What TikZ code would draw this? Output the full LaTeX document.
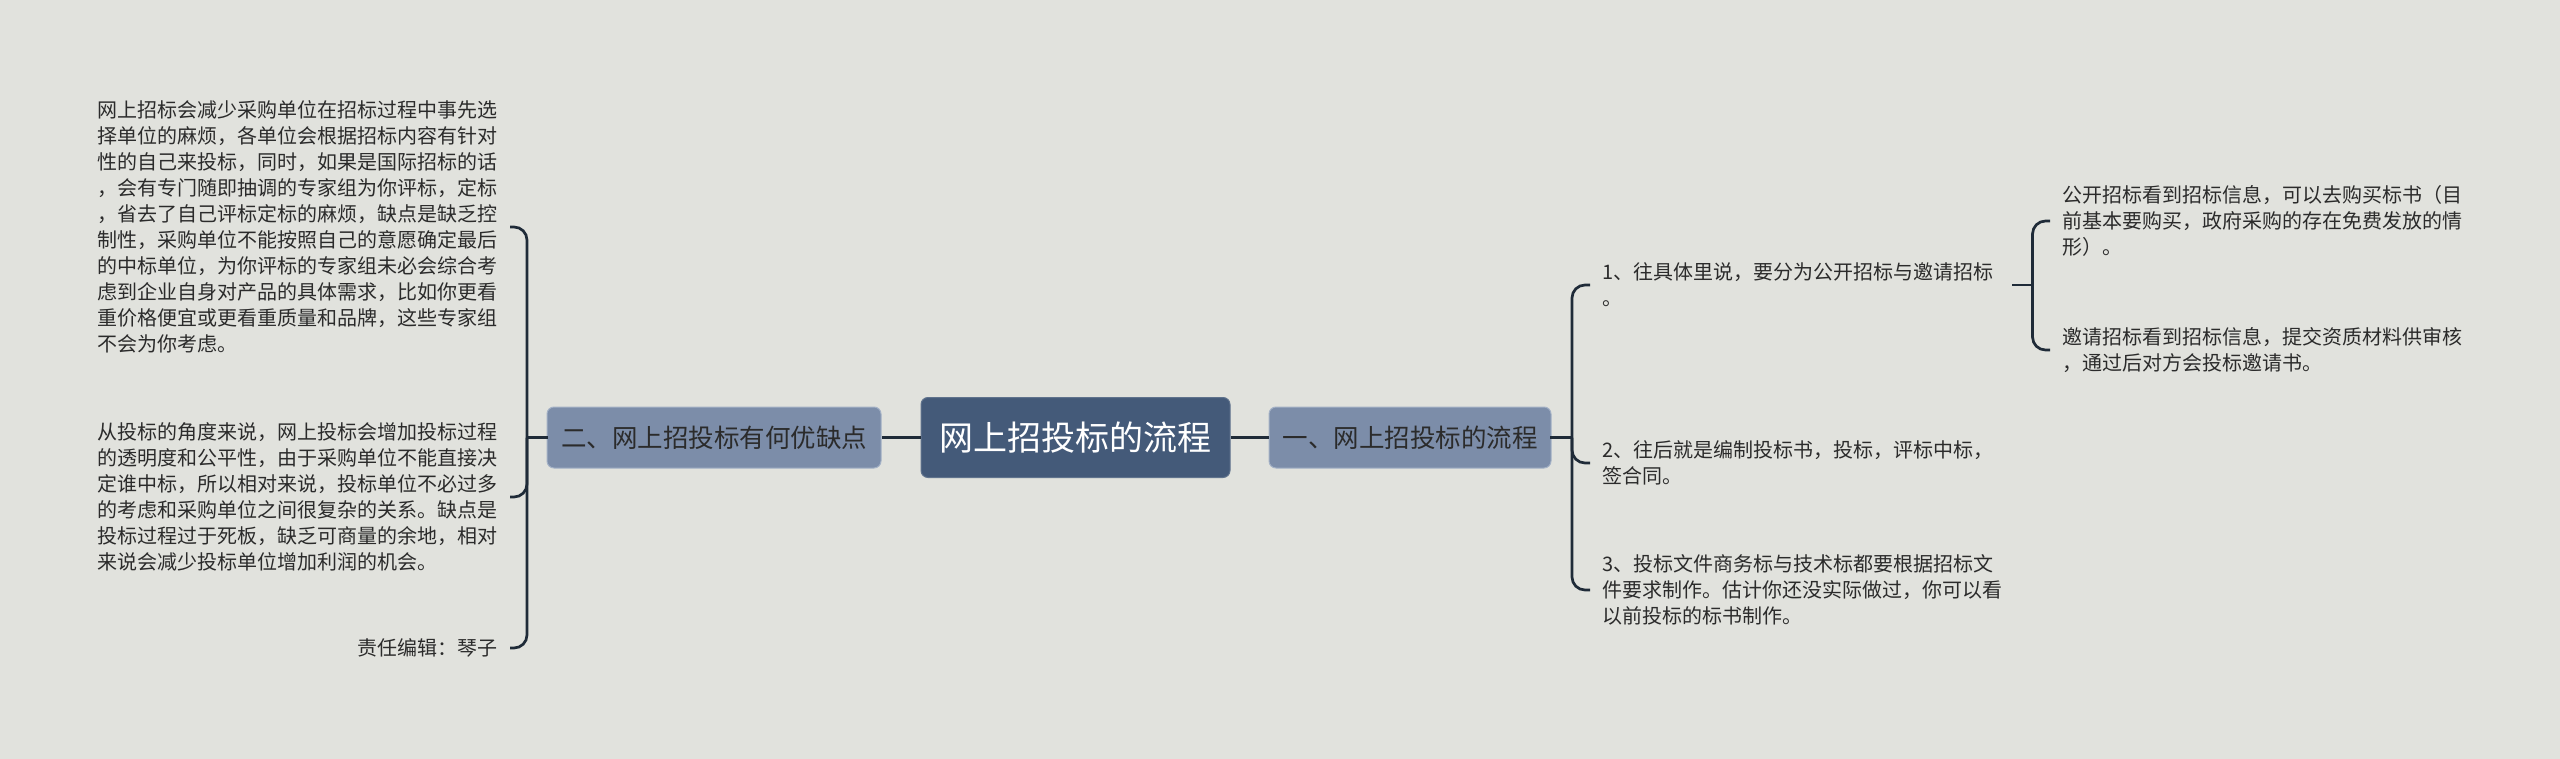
\documentclass[tikz,border=0pt]{standalone}
\usepackage{fontspec}
\setmainfont{Noto Sans CJK SC}
\definecolor{bg}{HTML}{E1E2DD}
\definecolor{linec}{HTML}{1F2B38}
\definecolor{mainc}{HTML}{445A79}
\definecolor{subc}{HTML}{7C8DA9}
\definecolor{subb}{HTML}{A3B1C6}
\definecolor{txt}{HTML}{2B2B2B}
\begin{document}
\begin{tikzpicture}[x=1pt,y=-1pt,
  conn/.style={draw=linec,line width=2.7pt,rounded corners=13pt},
  stub/.style={conn,line cap=rect},
  mainbox/.style={fill=mainc,draw=mainc!85!white,line width=1pt,rounded corners=7pt,text=white,font=\fontsize{34}{40}\selectfont,minimum width=309pt,minimum height=80pt,inner sep=0pt},
  subbox/.style={fill=subc,draw=subb,line width=1pt,rounded corners=7pt,text=txt,font=\fontsize{25.5}{30}\selectfont,minimum height=61pt,inner sep=0pt},
  leaf/.style={text=txt,font=\fontsize{20}{26}\selectfont,align=left,inner sep=0pt},
  leafr/.style={text=txt,font=\fontsize{20}{26}\selectfont,align=right,inner sep=0pt},
]
\fill[bg] (0,0) rectangle (2560,759);
\useasboundingbox (0,0) rectangle (2560,759);

% main nodes
\node[mainbox] (C) at (1075.5,437.5) {网上招投标的流程};
\node[subbox,minimum width=334pt] (L) at (714,437.5) {二、网上招投标有何优缺点};
\node[subbox,minimum width=282pt] (R) at (1410,437.5) {一、网上招投标的流程};

% left leaves
\node[leaf,anchor=east] (t1) at (498,227) {网上招标会减少采购单位在招标过程中事先选\\择单位的麻烦，各单位会根据招标内容有针对\\性的自己来投标，同时，如果是国际招标的话\\，会有专门随即抽调的专家组为你评标，定标\\，省去了自己评标定标的麻烦，缺点是缺乏控\\制性，采购单位不能按照自己的意愿确定最后\\的中标单位，为你评标的专家组未必会综合考\\虑到企业自身对产品的具体需求，比如你更看\\重价格便宜或更看重质量和品牌，这些专家组\\不会为你考虑。};
\node[leaf,anchor=east] (t2) at (498,497) {从投标的角度来说，网上投标会增加投标过程\\的透明度和公平性，由于采购单位不能直接决\\定谁中标，所以相对来说，投标单位不必过多\\的考虑和采购单位之间很复杂的关系。缺点是\\投标过程过于死板，缺乏可商量的余地，相对\\来说会减少投标单位增加利润的机会。};
\node[leafr,anchor=east] (t3) at (498,648) {责任编辑：琴子};

% right leaves
\node[leaf,anchor=west] (i1) at (1602,285) {1、往具体里说，要分为公开招标与邀请招标\\。};
\node[leaf,anchor=west] (i2) at (1602,463) {2、往后就是编制投标书，投标，评标中标，\\签合同。};
\node[leaf,anchor=west] (i3) at (1602,590) {3、投标文件商务标与技术标都要根据招标文\\件要求制作。估计你还没实际做过，你可以看\\以前投标的标书制作。};
\node[leaf,anchor=west] (a1) at (2062,221) {公开招标看到招标信息，可以去购买标书（目\\前基本要购买，政府采购的存在免费发放的情\\形）。};
\node[leaf,anchor=west] (a2) at (2062,350) {邀请招标看到招标信息，提交资质材料供审核\\，通过后对方会投标邀请书。};

% connectors
\draw[conn] (C.west) -- (L.east);
\draw[conn] (C.east) -- (R.west);

\coordinate (jl) at (527,437.5);
\draw[stub] (L.west) -- (jl);
\draw[conn] (jl) |- ([xshift=12pt]t1.east);
\draw[conn] (jl) |- ([xshift=12pt]t2.east);
\draw[conn] (jl) |- ([xshift=12pt]t3.east);

\coordinate (jr) at (1572,437.5);
\draw[stub] (R.east) -- (jr);
\draw[conn] (jr) |- ([xshift=-12pt]i1.west);
\draw[conn] (jr) |- ([xshift=-12pt]i2.west);
\draw[conn] (jr) |- ([xshift=-12pt]i3.west);

\coordinate (i1r) at ([xshift=20pt]i1.east);
\coordinate (j1) at ([xshift=19pt]i1r);
\draw[stub] (i1r) -- (j1);
\draw[conn] (j1) |- ([xshift=-12pt]a1.west);
\draw[conn] (j1) |- ([xshift=-12pt]a2.west);
\end{tikzpicture}
\end{document}
